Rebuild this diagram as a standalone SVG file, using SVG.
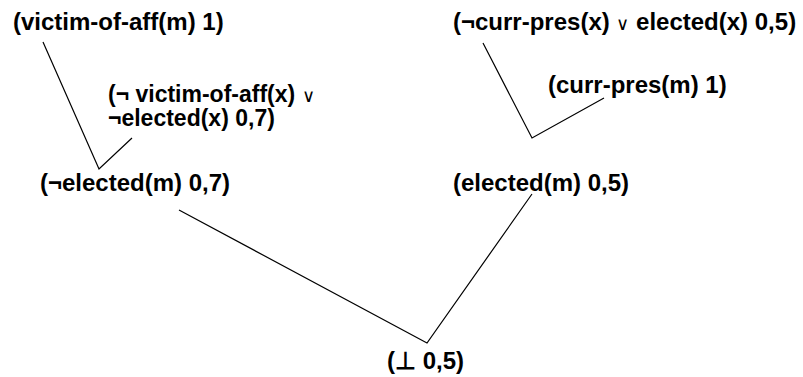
<svg xmlns="http://www.w3.org/2000/svg" width="803" height="377" viewBox="0 0 803 377">
<style>
text{font-family:"Liberation Sans",Arial,sans-serif;font-weight:bold;font-size:24px;fill:#000}
.s{font-size:23px}
.or{font-size:18px;font-weight:normal}
.c{stroke:#000;stroke-width:1.2;fill:none}
</style>
<rect width="803" height="377" fill="#fff"/>
<g id="connectors">
<polyline class="c" points="43,42 99,169 132,138"/>
<polyline class="c" points="483,43 532,138 604,98"/>
<polyline class="c" points="179,210 427,343 532,194"/>
</g>
<g id="n1"><text x="13" y="30">(victim-of-aff(m) 1)</text></g>
<g id="n2"><text class="s" x="108" y="102">(¬ victim-of-aff(x) <tspan class="or">∨</tspan></text><text class="s" x="108" y="126">¬elected(x) 0,7)</text></g>
<g id="n3"><text x="40" y="191">(¬elected(m) 0,7)</text></g>
<g id="n4"><text x="453" y="30">(¬curr-pres(x) <tspan class="or">∨</tspan> elected(x) 0,5)</text></g>
<g id="n5"><text x="548" y="93">(curr-pres(m) 1)</text></g>
<g id="n6"><text x="453" y="191">(elected(m) 0,5)</text></g>
<g id="n7"><text x="387" y="369">(⊥ 0,5)</text></g>
</svg>
